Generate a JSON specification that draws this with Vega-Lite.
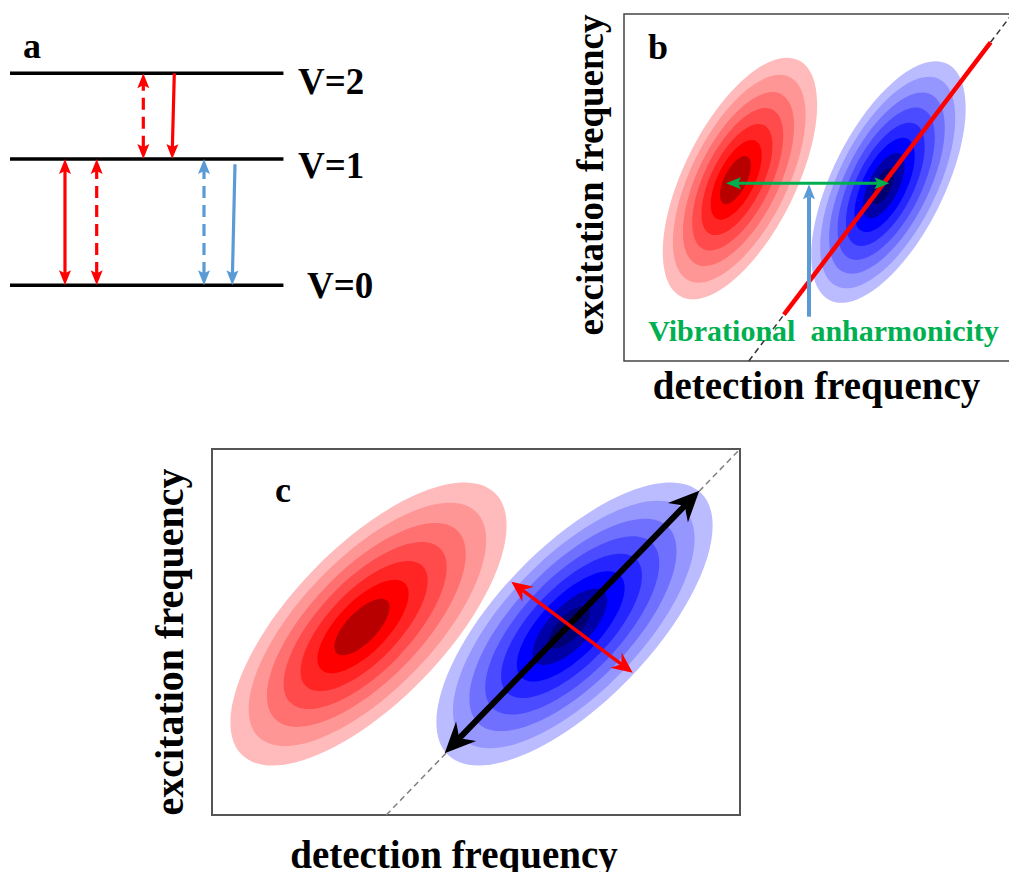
{
  "$schema": "https://vega.github.io/schema/vega-lite/v6.json",
  "background": "white",
  "padding": {"left": 8, "top": 12, "right": 0, "bottom": 0},
  "config": {
    "view": {"stroke": null},
    "font": "Liberation Serif",
    "axis": {"domain": false, "ticks": false, "labels": false, "grid": false, "titleFont": "Liberation Serif", "titleFontWeight": "bold", "titleColor": "#000000"},
    "text": {"font": "Liberation Serif", "fontWeight": "bold", "color": "#000000"}
  },
  "spacing": 40,
  "resolve": {"scale": {"color": "independent", "size": "independent", "angle": "independent", "strokeDash": "independent"}},
  "vconcat": [
    {
      "resolve": {"scale": {"color": "independent", "size": "independent", "angle": "independent", "strokeDash": "independent"}},
      "hconcat": [
        {
          "width": 370,
          "height": 347,
          "encoding": {
            "x": {"field": "x", "type": "quantitative", "scale": {"domain": [0, 10], "nice": false, "zero": false}, "axis": null},
            "y": {"field": "E", "type": "quantitative", "scale": {"domain": [-0.6, 2.15], "nice": false, "zero": false}, "axis": null}
          },
          "layer": [
            {
              "data": {"values": [
                {"level": "V=0", "x": 0, "x2": 7.39, "E": 0},
                {"level": "V=1", "x": 0, "x2": 7.39, "E": 1},
                {"level": "V=2", "x": 0, "x2": 7.39, "E": 1.68}
              ]},
              "mark": {"type": "rule", "color": "#000000", "strokeWidth": 3.5},
              "encoding": {"x2": {"field": "x2"}}
            },
            {
              "data": {"values": [
                {"label": "V=2", "x": 7.784, "E": 1.514},
                {"label": "V=1", "x": 7.784, "E": 0.853},
                {"label": "V=0", "x": 8.027, "E": -0.098}
              ]},
              "mark": {"type": "text", "align": "left", "baseline": "alphabetic", "fontSize": 37},
              "encoding": {"text": {"field": "label"}}
            },
            {
              "data": {"values": [
                {"x": 1.486, "x2": 1.486, "E": 0.09, "E2": 0.91, "pathway": "ESA", "beam": "probe"},
                {"x": 2.343, "x2": 2.343, "E": 0.09, "E2": 0.91, "pathway": "ESA", "beam": "pump"},
                {"x": 3.603, "x2": 3.603, "E": 1.09, "E2": 1.59, "pathway": "ESA", "beam": "pump"},
                {"x": 4.441, "x2": 4.388, "E": 1.68, "E2": 1.09, "pathway": "ESA", "beam": "probe"},
                {"x": 5.243, "x2": 5.243, "E": 0.09, "E2": 0.91, "pathway": "GSB/SE", "beam": "pump"},
                {"x": 6.081, "x2": 6.012, "E": 0.959, "E2": 0.09, "pathway": "GSB/SE", "beam": "probe"}
              ]},
              "mark": {"type": "rule", "strokeWidth": 3.2},
              "encoding": {
                "x2": {"field": "x2"},
                "y2": {"field": "E2"},
                "color": {"field": "pathway", "type": "nominal", "scale": {"domain": ["ESA", "GSB/SE"], "range": ["#FF0000", "#5B9BD5"]}, "legend": null},
                "strokeDash": {"field": "beam", "type": "nominal", "scale": {"domain": ["probe", "pump"], "range": [[1, 0], [12, 7]]}, "legend": null}
              }
            },
            {
              "data": {"values": [
                {"x": 1.486, "E": 0, "dir": 180, "pathway": "ESA"},
                {"x": 1.486, "E": 1, "dir": 0, "pathway": "ESA"},
                {"x": 2.343, "E": 0, "dir": 180, "pathway": "ESA"},
                {"x": 2.343, "E": 1, "dir": 0, "pathway": "ESA"},
                {"x": 3.603, "E": 1, "dir": 180, "pathway": "ESA"},
                {"x": 3.603, "E": 1.68, "dir": 0, "pathway": "ESA"},
                {"x": 4.383, "E": 1, "dir": 181, "pathway": "ESA"},
                {"x": 5.243, "E": 0, "dir": 180, "pathway": "GSB/SE"},
                {"x": 5.243, "E": 1, "dir": 0, "pathway": "GSB/SE"},
                {"x": 6.006, "E": 0, "dir": 181, "pathway": "GSB/SE"}
              ]},
              "mark": {"type": "point", "shape": "M0,0L0.5,1.25L0,1L-0.5,1.25Z", "filled": true, "opacity": 1, "size": 576},
              "encoding": {
                "color": {"field": "pathway", "type": "nominal", "scale": {"domain": ["ESA", "GSB/SE"], "range": ["#FF0000", "#5B9BD5"]}, "legend": null},
                "angle": {"field": "dir", "type": "quantitative", "scale": {"domain": [0, 360], "range": [0, 360]}}
              }
            },
            {
              "data": {"values": [{"label": "a", "x": 0.35, "E": 1.801}]},
              "mark": {"type": "text", "align": "left", "baseline": "alphabetic", "fontSize": 36},
              "encoding": {"text": {"field": "label"}}
            }
          ]
        },
        {
          "width": 390,
          "height": 347,
          "view": {"stroke": "#444444", "strokeWidth": 1.5},
          "encoding": {
            "x": {"field": "x", "type": "quantitative", "scale": {"domain": [0, 10], "nice": false, "zero": false}, "axis": {"title": "detection frequency", "titleFontSize": 39, "titlePadding": 6, "titleX": 192, "titleAlign": "center"}},
            "y": {"field": "y", "type": "quantitative", "scale": {"domain": [3.2, 9.95], "nice": false, "zero": false}, "axis": {"title": "excitation frequency", "titleFontSize": 37, "titlePadding": 14, "titleAnchor": "end"}}
          },
          "layer": [
            {
              "data": {"values": [
                {"peak": "1-2", "level": 1, "r": 1, "x": 2.974, "y": 6.75},
                {"peak": "1-2", "level": 2, "r": 0.86, "x": 2.955, "y": 6.745},
                {"peak": "1-2", "level": 3, "r": 0.72, "x": 2.936, "y": 6.74},
                {"peak": "1-2", "level": 4, "r": 0.59, "x": 2.916, "y": 6.735},
                {"peak": "1-2", "level": 5, "r": 0.46, "x": 2.897, "y": 6.73},
                {"peak": "1-2", "level": 6, "r": 0.33, "x": 2.878, "y": 6.725},
                {"peak": "1-2", "level": 7, "r": 0.2, "x": 2.859, "y": 6.72},
                {"peak": "0-1", "level": -1, "r": 1, "x": 6.782, "y": 6.682},
                {"peak": "0-1", "level": -2, "r": 0.875, "x": 6.762, "y": 6.671},
                {"peak": "0-1", "level": -3, "r": 0.75, "x": 6.742, "y": 6.659},
                {"peak": "0-1", "level": -4, "r": 0.63, "x": 6.722, "y": 6.648},
                {"peak": "0-1", "level": -5, "r": 0.51, "x": 6.702, "y": 6.636},
                {"peak": "0-1", "level": -6, "r": 0.39, "x": 6.682, "y": 6.625},
                {"peak": "0-1", "level": -7, "r": 0.27, "x": 6.662, "y": 6.613},
                {"peak": "0-1", "level": -8, "r": 0.15, "x": 6.642, "y": 6.602}
              ]},
              "mark": {"type": "point", "shape": "M-1,0C-1,-0.2342,-0.5523,-0.424,0,-0.424C0.5523,-0.424,1,-0.2342,1,0C1,0.2342,0.5523,0.424,0,0.424C-0.5523,0.424,-1,0.2342,-1,0Z", "filled": true, "opacity": 1, "angle": 296.4, "strokeWidth": 0},
              "encoding": {
                "color": {"field": "level", "type": "quantitative", "scale": {"domain": [-8, -7, -6, -1, 1, 6, 7], "range": ["#000070", "#0000A8", "#0000FF", "#BBBBFF", "#FFBBBB", "#FF0000", "#B80000"], "interpolate": "rgb"}, "legend": null},
                "size": {"field": "r", "type": "quantitative", "scale": {"type": "pow", "exponent": 2, "domain": [0, 1], "range": [0, 69696]}, "legend": null}
              }
            },
            {
              "data": {"values": [{"x": 3.2, "y": 3.2, "x2": 9.95, "y2": 9.95}]},
              "mark": {"type": "rule", "color": "#333333", "strokeWidth": 1.5, "strokeDash": [6, 4]},
              "encoding": {"x2": {"field": "x2"}, "y2": {"field": "y2"}}
            },
            {
              "data": {"values": [{"x": 4.1, "y": 4.1, "x2": 9.4, "y2": 9.4}]},
              "mark": {"type": "rule", "color": "#FF0000", "strokeWidth": 4.5},
              "encoding": {"x2": {"field": "x2"}, "y2": {"field": "y2"}}
            },
            {
              "data": {"values": [{"x": 4.744, "y": 4.062, "x2": 4.744, "y2": 6.404}]},
              "mark": {"type": "rule", "color": "#5B9BD5", "strokeWidth": 4},
              "encoding": {"x2": {"field": "x2"}, "y2": {"field": "y2"}}
            },
            {
              "data": {"values": [{"x": 4.744, "y": 6.637, "dir": 0}]},
              "mark": {"type": "point", "shape": "M0,0L0.5,1.25L0,1L-0.5,1.25Z", "filled": true, "opacity": 1, "size": 576, "color": "#5B9BD5"},
              "encoding": {
                "angle": {"field": "dir", "type": "quantitative", "scale": {"domain": [0, 360], "range": [0, 360]}}
              }
            },
            {
              "data": {"values": [{"x": 2.907, "y": 6.657, "x2": 6.511, "y2": 6.657}]},
              "mark": {"type": "rule", "color": "#00B050", "strokeWidth": 3},
              "encoding": {"x2": {"field": "x2"}, "y2": {"field": "y2"}}
            },
            {
              "data": {"values": [
                {"x": 2.615, "y": 6.657, "dir": 270},
                {"x": 6.803, "y": 6.657, "dir": 90}
              ]},
              "mark": {"type": "point", "shape": "M0,0L0.5,1.25L0,1L-0.5,1.25Z", "filled": true, "opacity": 1, "size": 576, "color": "#00B050"},
              "encoding": {
                "angle": {"field": "dir", "type": "quantitative", "scale": {"domain": [0, 360], "range": [0, 360]}}
              }
            },
            {
              "data": {"values": [{"x": 5.115, "y": 3.589, "label": "Vibrational\u00a0 anharmonicity"}]},
              "mark": {"type": "text", "align": "center", "baseline": "alphabetic", "fontSize": 30, "color": "#00B050"},
              "encoding": {"text": {"field": "label"}}
            },
            {
              "data": {"values": [{"x": 0.615, "y": 9.074, "label": "b"}]},
              "mark": {"type": "text", "align": "left", "baseline": "alphabetic", "fontSize": 36},
              "encoding": {"text": {"field": "label"}}
            }
          ]
        }
      ],
      "spacing": 244,
      "bounds": "flush"
    },
    {
      "resolve": {"scale": {"color": "independent", "size": "independent", "angle": "independent", "strokeDash": "independent"}},
      "hconcat": [
        {
          "width": 100,
          "height": 10,
          "data": {"values": []},
          "mark": "text"
        },
        {
          "width": 528,
          "height": 366,
          "view": {"stroke": "#555555", "strokeWidth": 2},
          "encoding": {
            "x": {"field": "x", "type": "quantitative", "scale": {"domain": [0, 10], "nice": false, "zero": false}, "axis": {"title": "detection frequency", "titleFontSize": 39, "titlePadding": 21, "titleX": 241.5, "titleAlign": "center"}},
            "y": {"field": "y", "type": "quantitative", "scale": {"domain": [3.3, 10], "nice": false, "zero": false}, "axis": {"title": "excitation frequency", "titleFontSize": 40, "titlePadding": 22, "titleAnchor": "start"}}
          },
          "layer": [
            {
              "data": {"values": [
                {"peak": "1-2", "level": 1, "r": 1, "x": 2.964, "y": 6.796},
                {"peak": "1-2", "level": 2, "r": 0.86, "x": 2.944, "y": 6.787},
                {"peak": "1-2", "level": 3, "r": 0.72, "x": 2.923, "y": 6.778},
                {"peak": "1-2", "level": 4, "r": 0.59, "x": 2.903, "y": 6.768},
                {"peak": "1-2", "level": 5, "r": 0.46, "x": 2.882, "y": 6.759},
                {"peak": "1-2", "level": 6, "r": 0.33, "x": 2.862, "y": 6.75},
                {"peak": "1-2", "level": 7, "r": 0.2, "x": 2.841, "y": 6.741},
                {"peak": "0-1", "level": -1, "r": 1, "x": 6.866, "y": 6.796},
                {"peak": "0-1", "level": -2, "r": 0.875, "x": 6.852, "y": 6.787},
                {"peak": "0-1", "level": -3, "r": 0.75, "x": 6.837, "y": 6.779},
                {"peak": "0-1", "level": -4, "r": 0.63, "x": 6.823, "y": 6.77},
                {"peak": "0-1", "level": -5, "r": 0.51, "x": 6.809, "y": 6.762},
                {"peak": "0-1", "level": -6, "r": 0.39, "x": 6.795, "y": 6.753},
                {"peak": "0-1", "level": -7, "r": 0.27, "x": 6.78, "y": 6.745},
                {"peak": "0-1", "level": -8, "r": 0.15, "x": 6.766, "y": 6.736}
              ]},
              "mark": {"type": "point", "shape": "M-1,0C-1,-0.2342,-0.5523,-0.424,0,-0.424C0.5523,-0.424,1,-0.2342,1,0C1,0.2342,0.5523,0.424,0,0.424C-0.5523,0.424,-1,0.2342,-1,0Z", "filled": true, "opacity": 1, "angle": 314, "strokeWidth": 0},
              "encoding": {
                "color": {"field": "level", "type": "quantitative", "scale": {"domain": [-8, -7, -6, -1, 1, 6, 7], "range": ["#000070", "#0000A8", "#0000FF", "#BBBBFF", "#FFBBBB", "#FF0000", "#B80000"], "interpolate": "rgb"}, "legend": null},
                "size": {"field": "r", "type": "quantitative", "scale": {"type": "pow", "exponent": 2, "domain": [0, 1], "range": [0, 132496]}, "legend": null}
              }
            },
            {
              "data": {"values": [{"x": 3.3, "y": 3.3, "x2": 10, "y2": 10}]},
              "mark": {"type": "rule", "color": "#808080", "strokeWidth": 1.5, "strokeDash": [6, 4]},
              "encoding": {"x2": {"field": "x2"}, "y2": {"field": "y2"}}
            },
            {
              "data": {"values": [{"x": 4.671, "y": 4.692, "x2": 8.965, "y2": 8.973}]},
              "mark": {"type": "rule", "color": "#000000", "strokeWidth": 6},
              "encoding": {"x2": {"field": "x2"}, "y2": {"field": "y2"}}
            },
            {
              "data": {"values": [
                {"x": 9.229, "y": 9.236, "dir": 44.1},
                {"x": 4.407, "y": 4.429, "dir": 224.1}
              ]},
              "mark": {"type": "point", "shape": "M0,0L0.5,1.1L0,0.75L-0.5,1.1Z", "filled": true, "opacity": 1, "size": 3136, "color": "#000000"},
              "encoding": {
                "angle": {"field": "dir", "type": "quantitative", "scale": {"domain": [0, 360], "range": [0, 360]}}
              }
            },
            {
              "data": {"values": [{"x": 5.873, "y": 7.422, "x2": 7.764, "y2": 6.054}]},
              "mark": {"type": "rule", "color": "#FF0000", "strokeWidth": 3.5},
              "encoding": {"x2": {"field": "x2"}, "y2": {"field": "y2"}}
            },
            {
              "data": {"values": [
                {"x": 5.669, "y": 7.571, "dir": 306.9},
                {"x": 7.968, "y": 5.905, "dir": 126.9}
              ]},
              "mark": {"type": "point", "shape": "M0,0L0.5,1.1L0,0.75L-0.5,1.1Z", "filled": true, "opacity": 1, "size": 1444, "color": "#FF0000"},
              "encoding": {
                "angle": {"field": "dir", "type": "quantitative", "scale": {"domain": [0, 360], "range": [0, 360]}}
              }
            },
            {
              "data": {"values": [{"x": 1.193, "y": 9.035, "label": "c"}]},
              "mark": {"type": "text", "align": "left", "baseline": "alphabetic", "fontSize": 36},
              "encoding": {"text": {"field": "label"}}
            }
          ]
        }
      ],
      "spacing": 102,
      "bounds": "flush"
    }
  ]
}
